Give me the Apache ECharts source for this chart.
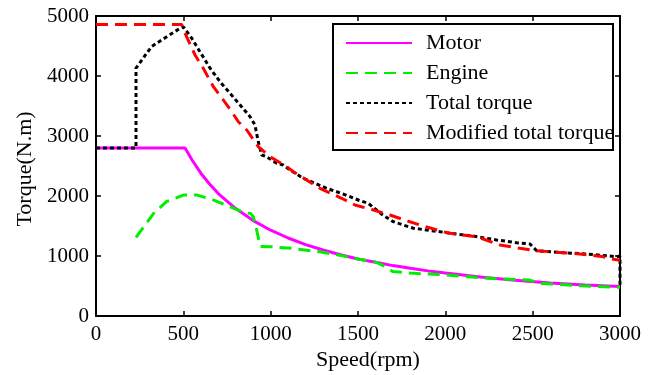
<!DOCTYPE html>
<html>
<head>
<meta charset="utf-8">
<script src="https://cdn.jsdelivr.net/npm/echarts@6/dist/echarts.min.js"></script>
<style>
  html, body { margin: 0; padding: 0; background: #fff; }
  #chart { width: 658px; height: 375px; }
</style>
</head>
<body>
<div id="chart"></div>
<script>
// Torque vs speed curves
const xTicks = [0, 500, 1000, 1500, 2000, 2500, 3000];
const yTicks = [0, 1000, 2000, 3000, 4000, 5000];

const seriesNames = ['Motor', 'Engine', 'Total torque', 'Modified total torque'];

const motorSpeed = [0, 510, 550, 600, 650, 700, 800, 900, 1000, 1100, 1200, 1300, 1400, 1500, 1600, 1700, 1800, 1900, 2000, 2200, 2400, 2600, 2800, 3000];
const motorTorque = [2800, 2800, 2600, 2380, 2200, 2040, 1790, 1590, 1430, 1300, 1190, 1100, 1020, 950, 895, 840, 795, 752, 715, 650, 597, 552, 515, 490];

const engineSpeed = [229, 330, 405, 500, 580, 670, 770, 850, 885, 900, 920, 940, 1000, 1130, 1280, 1400, 1500, 1600, 1650, 1700, 1800, 2000, 2100, 2300, 2480, 2540, 2770, 3000];
const engineTorque = [1310, 1710, 1910, 2015, 2015, 1935, 1820, 1720, 1710, 1660, 1430, 1160, 1155, 1125, 1070, 1010, 950, 900, 830, 740, 715, 685, 660, 620, 600, 545, 505, 478];

const totalSpeed = [0, 229, 229, 318, 405, 481, 500, 548, 595, 653, 710, 767, 825, 882, 910, 929, 949, 977, 1034, 1072, 1111, 1187, 1321, 1416, 1511, 1559, 1636, 1702, 1817, 1969, 2027, 2160, 2294, 2408, 2485, 2523, 2676, 2809, 2981, 3000, 3000];
const totalTorque = [2800, 2800, 4130, 4490, 4655, 4795, 4820, 4630, 4405, 4130, 3905, 3712, 3517, 3322, 3183, 2905, 2683, 2655, 2545, 2517, 2433, 2295, 2128, 2033, 1922, 1878, 1695, 1572, 1462, 1405, 1378, 1333, 1267, 1222, 1200, 1088, 1055, 1033, 988, 1000, 478];

const modSpeed = [0, 490, 510, 567, 614, 672, 729, 777, 815, 863, 929, 996, 1092, 1130, 1282, 1406, 1483, 1588, 1683, 1779, 1874, 1988, 2027, 2180, 2313, 2427, 2523, 2771, 2905, 2962, 3000];
const modTorque = [4860, 4860, 4712, 4350, 4128, 3822, 3600, 3405, 3238, 3100, 2822, 2655, 2488, 2405, 2128, 1962, 1850, 1767, 1683, 1588, 1500, 1405, 1378, 1322, 1183, 1128, 1088, 1033, 988, 945, 930];

const zip = (xs, ys) => xs.map((x, i) => [x, ys[i]]);

const FONT = '"Liberation Serif", "Times New Roman", serif';

const chart = echarts.init(document.getElementById('chart'), null, { renderer: 'canvas' });

const axisCommon = {
  type: 'value',
  axisLine: { show: true, onZero: false, lineStyle: { color: '#000', width: 2 } },
  axisTick: { show: true, inside: true, length: 5, lineStyle: { color: '#000', width: 1.5 } },
  splitLine: { show: false },
};

const plainNumber = (v) => String(v);

const lineSeries = (name, data, color, type, width) => ({
  name,
  type: 'line',
  data,
  symbol: 'none',
  animation: false,
  lineStyle: { color, type, width },
  itemStyle: { color },
  z: 3,
});

chart.setOption({
  animation: false,
  backgroundColor: '#fff',
  grid: { left: 96, right: 38, top: 16, bottom: 59 },
  xAxis: [
    Object.assign({}, axisCommon, {
      min: xTicks[0], max: xTicks[xTicks.length - 1], interval: 500,
      position: 'bottom',
      axisLabel: { color: '#000', fontFamily: FONT, fontSize: 21, margin: 8, formatter: plainNumber },
    }),
    Object.assign({}, axisCommon, {
      min: xTicks[0], max: xTicks[xTicks.length - 1], interval: 500,
      position: 'top',
      axisLabel: { show: false },
    }),
  ],
  yAxis: [
    Object.assign({}, axisCommon, {
      min: yTicks[0], max: yTicks[yTicks.length - 1], interval: 1000,
      position: 'left',
      axisLabel: { color: '#000', fontFamily: FONT, fontSize: 21, margin: 7, formatter: plainNumber },
    }),
    Object.assign({}, axisCommon, {
      min: yTicks[0], max: yTicks[yTicks.length - 1], interval: 1000,
      position: 'right',
      axisLabel: { show: false },
    }),
  ],
  legend: {
    orient: 'vertical',
    left: 345,
    top: 32,
    itemWidth: 66,
    itemHeight: 14,
    itemGap: 8,
    padding: 0,
    data: seriesNames,
    itemStyle: { opacity: 0 },
    textStyle: { color: '#000', fontFamily: FONT, fontSize: 22, lineHeight: 22, padding: [0, 0, 0, 9] },
  },
  graphic: [
    {
      type: 'rect',
      shape: { x: 333, y: 24, width: 280, height: 126 },
      style: { fill: 'rgba(0,0,0,0)', stroke: '#000', lineWidth: 2 },
      z: 10,
    },
    {
      type: 'text',
      x: 368, y: 360,
      style: { text: 'Speed(rpm)', font: '22px ' + FONT, fill: '#000', textAlign: 'center', textVerticalAlign: 'middle' },
    },
    {
      type: 'text',
      x: 25, y: 169,
      rotation: Math.PI / 2,
      style: { text: 'Torque(N.m)', font: '22px ' + FONT, fill: '#000', textAlign: 'center', textVerticalAlign: 'middle' },
    },
  ],
  series: [
    lineSeries(seriesNames[0], zip(motorSpeed, motorTorque), '#ff00ff', 'solid', 3),
    lineSeries(seriesNames[1], zip(engineSpeed, engineTorque), '#00ee00', [12, 7], 3),
    lineSeries(seriesNames[2], zip(totalSpeed, totalTorque), '#000000', [4, 3], 3),
    lineSeries(seriesNames[3], zip(modSpeed, modTorque), '#ff0000', [12, 7], 3),
  ],
});
</script>
</body>
</html>
